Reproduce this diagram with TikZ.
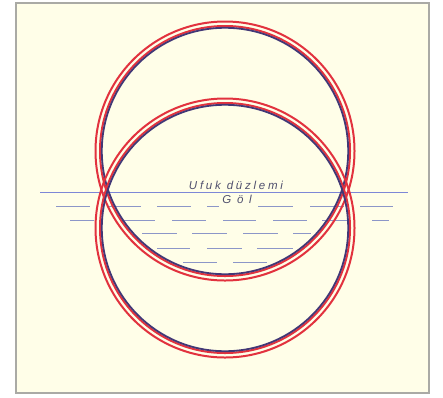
\documentclass[tikz,border=0pt]{standalone}
\usepackage{fontspec}
\newfontfamily\ufukfont[LetterSpace=24]{Liberation Sans}
\newfontfamily\golfont[LetterSpace=50]{Liberation Sans}
\definecolor{paper}{RGB}{255,254,232}
\definecolor{framegray}{RGB}{170,170,165}
\definecolor{ringred}{RGB}{226,50,62}
\definecolor{ringnavy}{RGB}{66,56,118}
\definecolor{horizonblue}{RGB}{125,135,215}
\definecolor{waterblue}{RGB}{140,150,200}
\definecolor{labelgray}{RGB}{80,80,110}
\begin{document}
\begin{tikzpicture}[x=1pt,y=-1pt,
  redline/.style={draw=ringred,line width=2pt},
  navyline/.style={draw=ringnavy,line width=1.8pt},
  water/.style={draw=waterblue,line width=1pt},
  label/.style={text=labelgray,inner sep=0pt,font=\fontsize{11.5}{12}\selectfont}]
\useasboundingbox (0,0) rectangle (443,397);
\draw[framegray,line width=1.5pt,fill=paper] (16,3) rectangle (429,393);

\draw[horizonblue,line width=1pt] (40,192) -- (408,192);

\draw[water] (56,206) -- (90,206) (107,206) -- (141,206) (157,206) -- (191,206)
  (207,206) -- (219,206) (258,206) -- (293,206) (310,206) -- (344,206) (360,206) -- (393,206);
\draw[water] (70,220) -- (94,220) (122,220) -- (155,220) (172,220) -- (206,220)
  (223,220) -- (256,220) (273,220) -- (307,220) (322,220) -- (350,220) (372,220) -- (389,220);
\draw[water] (142,233) -- (177,233) (192,233) -- (227,233) (243,233) -- (278,233) (293,233) -- (311,233);
\draw[water] (157,248) -- (190,248) (207,248) -- (242,248) (257,248) -- (293,248);
\draw[water] (183,262) -- (217,262) (233,262) -- (267,262);

\draw[redline] (225,151) circle (129.5);
\draw[redline] (225,151) circle (125);
\draw[navyline] (225,151) circle (123.2);
\draw[redline] (225,228) circle (129.5);
\draw[redline] (225,228) circle (125);
\draw[navyline] (225,228) circle (123.2);

\node[label,anchor=base] (ufuk) at (236,189) {\ufukfont\itshape Ufuk düzlemi};
\node[label,anchor=base] (gol) at (237,203) {\golfont\itshape Göl};
\end{tikzpicture}
\end{document}
